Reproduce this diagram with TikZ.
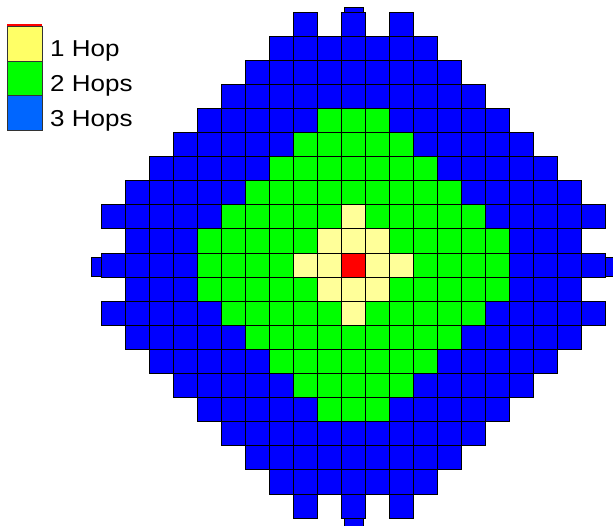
\documentclass[tikz,border=0pt]{standalone}
\usepackage{fontspec}
\setmainfont{Liberation Sans}
\definecolor{hop1}{RGB}{0,0,255}
\definecolor{hop2}{RGB}{0,255,0}
\definecolor{hop3}{RGB}{255,255,153}
\definecolor{hop4}{RGB}{255,0,0}
\definecolor{legyellow}{RGB}{255,255,102}
\definecolor{leggreen}{RGB}{0,255,0}
\definecolor{legblue}{RGB}{0,102,255}
\definecolor{legred}{RGB}{255,0,0}
\begin{document}
\begin{tikzpicture}[x=1pt,y=-1pt,
  cell/.style={draw=black, line width=1pt},
  legbox/.style={draw=black!80, line width=1pt},
  legtext/.style={anchor=base west, inner sep=0pt, font=\fontsize{23}{23}\selectfont}]
\useasboundingbox (0,0) rectangle (613,525);
% grid
\foreach \r in {-10,...,10}{
  \foreach \c in {-10,...,10}{
    \pgfmathtruncatemacro\ar{abs(\r)}
    \pgfmathtruncatemacro\ac{abs(\c)}
    \pgfmathtruncatemacro\s{\ar+\ac}
    \pgfmathtruncatemacro\kind{(\s==0)?4:((\s<=2)?3:(((\ar<=6)&&(\ac<=6)&&(\s<=7))?2:((((\ar<=9)&&(\ac<=9)&&(\s<=12))||((\ar==10)&&(\ac<=2)&&(mod(\ac,2)==0))||((\ac==10)&&(\ar<=2)&&(mod(\ar,2)==0)))?1:0)))}
    \ifnum\kind>0
      \draw[cell, fill=hop\kind] ({341+24*\c},{253+24.1*\r}) rectangle ++(24,24.1);
    \fi
  }
}
% stubs
\draw[cell, fill=hop1] (344,7) rectangle (363,12);
\draw[cell, fill=hop1] (344,518) rectangle (363,526);
\draw[cell, fill=hop1] (91,257) rectangle (101,276);
\draw[cell, fill=hop1] (605,257) rectangle (614,276);
% legend
\fill[legred] (7,24) rectangle (42,27);
\draw[legbox, fill=legyellow] (7,26) rectangle (42,61);
\draw[legbox, fill=leggreen] (7,61) rectangle (42,95.5);
\draw[legbox, fill=legblue] (7,95.5) rectangle (42,130);
\node[legtext] (l1) at (50,56.7) {\scalebox{1.13}[1]{1 Hop}};
\node[legtext] (l2) at (50,91.5) {\scalebox{1.13}[1]{2 Hops}};
\node[legtext] (l3) at (50,126) {\scalebox{1.13}[1]{3 Hops}};
\end{tikzpicture}
\end{document}
